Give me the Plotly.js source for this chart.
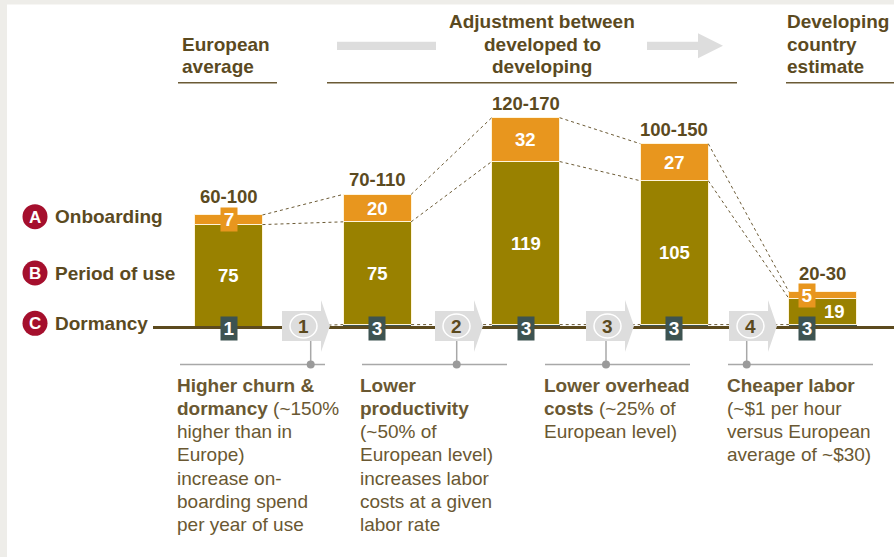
<!DOCTYPE html>
<html>
<head>
<meta charset="utf-8">
<script src="https://cdn.plot.ly/plotly-3.0.1.min.js"></script>
<style>
  html, body { margin: 0; padding: 0; background: #fff; }
  #chart { width: 894px; height: 557px; }
</style>
</head>
<body>
<div id="chart"></div>
<script>
// ---------------- DATA ----------------
const categories = ["European average", "Higher churn & dormancy", "Lower productivity", "Lower overhead costs", "Developing country estimate"];
const dormancy = [1, 3, 3, 3, 3];
const periodOfUse = [75, 75, 119, 105, 19];
const onboarding = [7, 20, 32, 27, 5];
const rangeLabels = ["60-100", "70-110", "120-170", "100-150", "20-30"];
const stepNumbers = ["1", "2", "3", "4"];
const componentLetters = ["A", "B", "C"];
const componentNames = ["Onboarding", "Period of use", "Dormancy"];
const headerEurope = ["European", "average"];
const headerAdjust = ["Adjustment between", "developed to", "developing"];
const headerDeveloping = ["Developing", "country", "estimate"];
const desc1 = ["<b>Higher churn &</b>", "<b>dormancy</b> (~150%", "higher than in", "Europe)", "increase on-", "boarding spend", "per year of use"];
const desc2 = ["<b>Lower</b>", "<b>productivity</b>", "(~50% of", "European level)", "increases labor", "costs at a given", "labor rate"];
const desc3 = ["<b>Lower overhead</b>", "<b>costs</b> (~25% of", "European level)"];
const desc4 = ["<b>Cheaper labor</b>", "(~$1 per hour", "versus European", "average of ~$30)"];

// ---------------- LAYOUT GEOMETRY ----------------
const W = 894, H = 557;
const PXU = 148.6;   // px per category step
const PYU = 1.37;    // px per value unit
const X0 = 228.5, Y0 = 328.7;
const BW = 68 / PXU;
const FONT = "Liberation Sans, Arial, Helvetica, sans-serif";
const BROWN = "#5B4A1F";
const BROWN_REG = "#6A5832";
const OLIVE = "#998100";
const ORANGE = "#E8961E";
const TEAL = "#3D5351";
const GRAY = "#DDDDDD";
const RED = "#A50F2D";

const px = x => x / W;
const py = y => 1 - y / H;
const xs = categories.map((c, i) => i);

// ---------------- TRACES ----------------
const traces = [
  { type: "bar", x: xs, y: dormancy, width: BW, marker: { color: TEAL, line: { width: 0 } }, hoverinfo: "skip", name: componentNames[2] },
  { type: "bar", x: xs, y: periodOfUse, width: BW, marker: { color: OLIVE, line: { color: "#FFF4DA", width: 1 } }, hoverinfo: "skip", name: componentNames[1] },
  { type: "bar", x: xs, y: onboarding, width: BW, marker: { color: ORANGE, line: { color: "#FFF4DA", width: 1 } }, hoverinfo: "skip", name: componentNames[0] }
];

// ---------------- SHAPES ----------------
const shapes = [];
shapes.push({ type: "rect", xref: "paper", yref: "paper", x0: px(7), x1: 1, y0: 0, y1: py(4.5), fillcolor: "#ffffff", line: { width: 0 }, layer: "below" });

// dotted connectors between consecutive bars
const levels = xs.map(i => [dormancy[i], dormancy[i] + periodOfUse[i], dormancy[i] + periodOfUse[i] + onboarding[i]]);
for (let i = 0; i < xs.length - 1; i++) {
  for (let k = 0; k < 3; k++) {
    shapes.push({ type: "line", xref: "x", yref: "y", x0: i + BW / 2, y0: levels[i][k], x1: i + 1 - BW / 2, y1: levels[i + 1][k],
      line: { color: "#6B5A35", width: 1, dash: "dot" } });
  }
}

// brown baseline
shapes.push({ type: "line", xref: "paper", yref: "paper", x0: px(153), x1: 1, y0: py(327.6), y1: py(327.6), line: { color: "#5C4A1E", width: 3 } });

// step arrows
const arrowLefts = [282, 435, 586, 729];
const dotXs = [310.7, 456.7, 606, 746.7];
stepNumbers.forEach((s, j) => {
  const L = arrowLefts[j];
  const pts = [[L, 311], [L + 39, 311], [L + 39, 300], [L + 48, 326], [L + 39, 352], [L + 39, 341], [L, 341]];
  const path = "M" + pts.map(p => px(p[0]).toFixed(5) + "," + py(p[1]).toFixed(5)).join(" L") + " Z";
  shapes.push({ type: "path", xref: "paper", yref: "paper", path: path, fillcolor: GRAY, line: { width: 0 } });
  const cx = L + 21.5, cy = 326;
  shapes.push({ type: "circle", xref: "paper", yref: "paper", x0: px(cx - 13.5), x1: px(cx + 13.5), y0: py(cy + 12), y1: py(cy - 12), fillcolor: GRAY, line: { color: "#ffffff", width: 1.5 } });
  const dx = dotXs[j];
  shapes.push({ type: "line", xref: "paper", yref: "paper", x0: px(dx), x1: px(dx), y0: py(341), y1: py(364.5), line: { color: "#A8A8A8", width: 1.5 } });
});
// description separator lines + dots
const descLines = [[180, 325], [362, 507], [545, 690], [728, 873]];
descLines.forEach((seg, j) => {
  shapes.push({ type: "line", xref: "paper", yref: "paper", x0: px(seg[0]), x1: px(seg[1]), y0: py(364.5), y1: py(364.5), line: { color: "#A8A8A8", width: 1.5 } });
  const dx = dotXs[j];
  shapes.push({ type: "circle", xref: "paper", yref: "paper", x0: px(dx - 4), x1: px(dx + 4), y0: py(368.5), y1: py(360.5), fillcolor: "#9A9A9A", line: { width: 0 } });
});

// header decorations
[[178, 277], [327, 737], [786, 894]].forEach(seg => {
  shapes.push({ type: "line", xref: "paper", yref: "paper", x0: px(seg[0]), x1: px(seg[1]), y0: py(82.7), y1: py(82.7), line: { color: "#6B5A35", width: 1.5 } });
});
shapes.push({ type: "rect", xref: "paper", yref: "paper", x0: px(337), x1: px(436), y0: py(50), y1: py(41.7), fillcolor: GRAY, line: { width: 0 } });
{
  const pts = [[647, 41.7], [698, 41.7], [698, 33.3], [723, 45.8], [698, 58.3], [698, 50], [647, 50]];
  const path = "M" + pts.map(p => px(p[0]).toFixed(5) + "," + py(p[1]).toFixed(5)).join(" L") + " Z";
  shapes.push({ type: "path", xref: "paper", yref: "paper", path: path, fillcolor: GRAY, line: { width: 0 } });
}

// component legend circles
const legendYs = [216.7, 273, 323.3];
legendYs.forEach(y => {
  shapes.push({ type: "circle", xref: "paper", yref: "paper", x0: px(35 - 12.5), x1: px(35 + 12.5), y0: py(y + 12.5), y1: py(y - 12.5), fillcolor: RED, line: { width: 0 } });
});

// ---------------- ANNOTATIONS ----------------
const ann = [];
function txt(x, y, text, opts) {
  ann.push(Object.assign({ xref: "paper", yref: "paper", x: px(x), y: py(y), text: text, showarrow: false, borderpad: 0,
    xanchor: "left", yanchor: "middle", align: "left", font: { family: FONT, size: 19, color: BROWN } }, opts || {}));
}

// headers
headerEurope.forEach((t, k) => txt(181, 45 + 22 * k, "<b>" + t + "</b>"));
headerAdjust.forEach((t, k) => txt(542, 22 + 22.5 * k, "<b>" + t + "</b>", { xanchor: "center", align: "center" }));
headerDeveloping.forEach((t, k) => txt(786, 22 + 22.5 * k, "<b>" + t + "</b>"));

// component legend
componentLetters.forEach((l, k) => {
  txt(35, legendYs[k] + 0.5, "<b>" + l + "</b>", { xanchor: "center", align: "center", font: { family: FONT, size: 17, color: "#ffffff" } });
  txt(54, legendYs[k], "<b>" + componentNames[k] + "</b>");
});

// bar labels
xs.forEach(i => {
  const d = dormancy[i], p = periodOfUse[i], o = onboarding[i];
  const total = d + p + o;
  const smallPeriod = p * PYU < 40;
  const boxShift = smallPeriod ? -16 : 0;
  const oBoxed = o * PYU < 20;
  // range label
  ann.push({ xref: "x", yref: "y", x: i, y: total, text: "<b>" + rangeLabels[i] + "</b>", showarrow: false, xanchor: "center", yanchor: "bottom",
    yshift: oBoxed ? 6.5 : 3, borderpad: 0, font: { family: FONT, size: 18.5, color: BROWN } });
  // onboarding label
  if (oBoxed) {
    ann.push({ xref: "x", yref: "y", x: i, y: d + p + o / 2, text: "<b>" + o + "</b>", showarrow: false, xanchor: "center", yanchor: "middle",
      xshift: boxShift, width: 16, height: 23, borderpad: 0, bgcolor: ORANGE, font: { family: FONT, size: 19, color: "#ffffff" } });
  } else {
    ann.push({ xref: "x", yref: "y", x: i, y: d + p + o / 2, text: "<b>" + o + "</b>", showarrow: false, xanchor: "center", yanchor: "middle",
      borderpad: 0, font: { family: FONT, size: 18.5, color: "#ffffff" } });
  }
  // period of use label
  ann.push({ xref: "x", yref: "y", x: i, y: d + p / 2, text: "<b>" + p + "</b>", showarrow: false, xanchor: "center", yanchor: "middle",
    xshift: smallPeriod ? 12 : 0, borderpad: 0, font: { family: FONT, size: 18.5, color: "#ffffff" } });
  // dormancy label
  ann.push({ xref: "x", yref: "y", x: i, y: 0, text: "<b>" + d + "</b>", showarrow: false, xanchor: "center", yanchor: "middle",
    xshift: boxShift, width: 16, height: 23, borderpad: 0, bgcolor: TEAL, font: { family: FONT, size: 19, color: "#ffffff" } });
});

// step numbers
stepNumbers.forEach((s, j) => {
  txt(arrowLefts[j] + 21.5, 326.5, "<b>" + s + "</b>", { xanchor: "center", align: "center", font: { family: FONT, size: 19, color: "#5B4A1F" } });
});

// descriptions
const descBlocks = [desc1, desc2, desc3, desc4];
const descX = [176, 359.3, 543.3, 726];
descBlocks.forEach((lines, j) => {
  lines.forEach((t, k) => txt(descX[j], 385 + 23.3 * k, t, { font: { family: FONT, size: 19, color: BROWN_REG } }));
});

const layout = {
  width: W, height: H,
  margin: { l: 0, r: 0, t: 0, b: 0, pad: 0 },
  paper_bgcolor: "#EEEDE9",
  plot_bgcolor: "rgba(0,0,0,0)",
  barmode: "stack",
  showlegend: false,
  xaxis: { visible: false, range: [-X0 / PXU, (W - X0) / PXU], fixedrange: true },
  yaxis: { visible: false, range: [-(H - Y0) / PYU, Y0 / PYU], fixedrange: true },
  shapes: shapes,
  annotations: ann,
  font: { family: FONT, color: BROWN }
};

Plotly.newPlot("chart", traces, layout, { displayModeBar: false, staticPlot: true });
</script>
</body>
</html>
